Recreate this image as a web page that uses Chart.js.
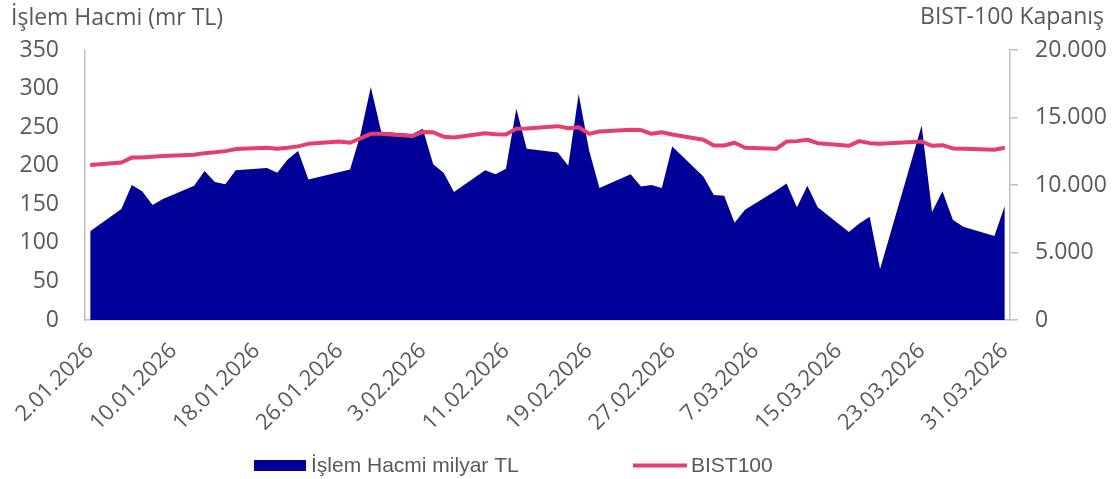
<!DOCTYPE html>
<html>
<head>
<meta charset="utf-8">
<script src="https://cdn.jsdelivr.net/npm/chart.js@4.4.1/dist/chart.umd.min.js"></script>
<style>
html, body { margin: 0; padding: 0; background: #fff; }
</style>
</head>
<body>
<canvas id="chart" width="1112" height="479"></canvas>
<script>
// trading days (BIST), Jan-Mar 2026
var tradeDays = [
  '2.01.2026',
  '5.01.2026', '6.01.2026', '7.01.2026', '8.01.2026', '9.01.2026',
  '12.01.2026', '13.01.2026', '14.01.2026', '15.01.2026', '16.01.2026',
  '19.01.2026', '20.01.2026', '21.01.2026', '22.01.2026', '23.01.2026',
  '26.01.2026', '27.01.2026', '28.01.2026', '29.01.2026', '30.01.2026',
  '2.02.2026', '3.02.2026', '4.02.2026', '5.02.2026', '6.02.2026',
  '9.02.2026', '10.02.2026', '11.02.2026', '12.02.2026', '13.02.2026',
  '16.02.2026', '17.02.2026', '18.02.2026', '19.02.2026', '20.02.2026',
  '23.02.2026', '24.02.2026', '25.02.2026', '26.02.2026', '27.02.2026',
  '2.03.2026', '3.03.2026', '4.03.2026', '5.03.2026', '6.03.2026',
  '9.03.2026', '10.03.2026', '11.03.2026', '12.03.2026', '13.03.2026',
  '16.03.2026', '17.03.2026', '18.03.2026', '19.03.2026',
  '23.03.2026', '24.03.2026', '25.03.2026', '26.03.2026', '27.03.2026',
  '30.03.2026', '31.03.2026'
];

// İşlem hacmi, milyar TL
var volume = [
  115,
  144, 175, 167, 149, 157,
  174, 193, 179, 176, 194,
  197, 191, 208, 219, 182,
  192, 195, 240, 302, 244,
  241, 248, 202, 191, 166,
  194, 189, 196, 274, 222,
  217, 200, 293, 220, 171,
  189, 173, 175, 171, 225,
  186, 162, 161, 126, 143,
  168, 177, 146, 174, 146,
  114, 125, 134, 66,
  252, 140, 167, 130, 121,
  109, 148
];

// BIST100 kapanış
var bist = [
  11480,
  11670, 12030, 12040, 12090, 12140,
  12240, 12360, 12420, 12510, 12660,
  12760, 12690, 12760, 12860, 13050,
  13220, 13130, 13450, 13790, 13790,
  13620, 13930, 13910, 13580, 13520,
  13840, 13760, 13740, 14160, 14180,
  14360, 14210, 14280, 13790, 13960,
  14090, 14070, 13790, 13910, 13740,
  13350, 12930, 12930, 13130, 12760,
  12680, 13220, 13250, 13350, 13100,
  12900, 13250, 13100, 13050,
  13220, 12900, 12950, 12710, 12680,
  12610, 12760
];

var leftTitle = 'İşlem Hacmi (mr TL)';
var rightTitle = 'BIST-100 Kapanış';
var volLabel = 'İşlem Hacmi milyar TL';
var bistLabel = 'BIST100';

var navy = '#000099';
var pink = '#E83E6C';
var textGray = '#595959';
var axisGray = '#BFBFBF';

// calendar-day axis, like a date axis
var labels = [];
var volData = [];
var bistData = [];
var d = new Date(2026, 0, 2);
var end = new Date(2026, 2, 31);
while (d <= end) {
  var lbl = d.getDate() + '.' + String(d.getMonth() + 1).padStart(2, '0') + '.' + d.getFullYear();
  var k = tradeDays.indexOf(lbl);
  labels.push(lbl);
  volData.push(k >= 0 ? volume[k] : null);
  bistData.push(k >= 0 ? bist[k] : null);
  d.setDate(d.getDate() + 1);
}

function dotThousands(v) {
  return String(v).replace(/\B(?=(\d{3})+(?!\d))/g, '.');
}

var extraText = {
  id: 'extraText',
  afterDraw: function(chart) {
    var ctx = chart.ctx;
    ctx.save();
    ctx.fillStyle = textGray;
    ctx.textBaseline = 'middle';
    ctx.font = '23px "Open Sans"';
    ctx.textAlign = 'left';
    ctx.fillText(leftTitle, 11, 18);
    ctx.textAlign = 'right';
    ctx.fillText(rightTitle, 1104, 17);

    // legend
    ctx.font = '21px "Liberation Sans"';
    ctx.textAlign = 'left';
    ctx.fillStyle = navy;
    ctx.fillRect(254, 460, 52, 11);
    ctx.fillStyle = textGray;
    ctx.fillText(volLabel, 311, 466);
    ctx.strokeStyle = pink;
    ctx.lineWidth = 4;
    ctx.beginPath();
    ctx.moveTo(633, 465.5);
    ctx.lineTo(687, 465.5);
    ctx.stroke();
    ctx.fillText(bistLabel, 691, 466);
    ctx.restore();
  }
};

var ctx = document.getElementById('chart');

var myChart = new Chart(ctx, {
  type: 'line',
  data: {
    labels: labels,
    datasets: [{
      label: bistLabel,
      data: bistData,
      yAxisID: 'y1',
      borderColor: pink,
      borderWidth: 4,
      borderJoinStyle: 'round',
      pointRadius: 0,
      fill: false,
      spanGaps: true,
      order: 0
    }, {
      label: volLabel,
      data: volData,
      yAxisID: 'y',
      backgroundColor: navy,
      borderColor: navy,
      borderWidth: 0,
      pointRadius: 0,
      fill: 'origin',
      spanGaps: true,
      order: 1
    }]
  },
  options: {
    responsive: false,
    animation: false,
    layout: { padding: { top: 50 } },
    plugins: {
      legend: { display: false },
      title: { display: false },
      tooltip: { enabled: false }
    },
    scales: {
      x: {
        offset: true,
        grid: { display: false },
        border: { display: true, color: axisGray, width: 1.5 },
        ticks: {
          autoSkip: false,
          maxRotation: 45,
          minRotation: 45,
          padding: 10,
          color: textGray,
          font: { family: 'Open Sans', size: 22 },
          callback: function(val, i) {
            return i % 8 === 0 ? labels[i] : null;
          }
        },
        afterFit: function(scale) { scale.height = 159; }
      },
      y: {
        position: 'left',
        min: 0,
        max: 350,
        grid: { display: false, drawTicks: false },
        border: { display: true, color: axisGray, width: 1.5 },
        ticks: {
          stepSize: 50,
          padding: 26,
          color: textGray,
          font: { family: 'Open Sans', size: 23 }
        },
        afterFit: function(scale) { scale.width = 85; }
      },
      y1: {
        position: 'right',
        min: 0,
        max: 20000,
        grid: {
          display: true,
          drawOnChartArea: false,
          drawTicks: true,
          tickLength: 8,
          color: axisGray,
          lineWidth: 1.5
        },
        border: { display: true, color: axisGray, width: 1.5 },
        ticks: {
          stepSize: 5000,
          padding: 17,
          color: textGray,
          font: { family: 'Open Sans', size: 23 },
          callback: function(v) { return dotThousands(v); }
        },
        afterFit: function(scale) { scale.width = 102; }
      }
    }
  },
  plugins: [extraText]
});
</script>
</body>
</html>
